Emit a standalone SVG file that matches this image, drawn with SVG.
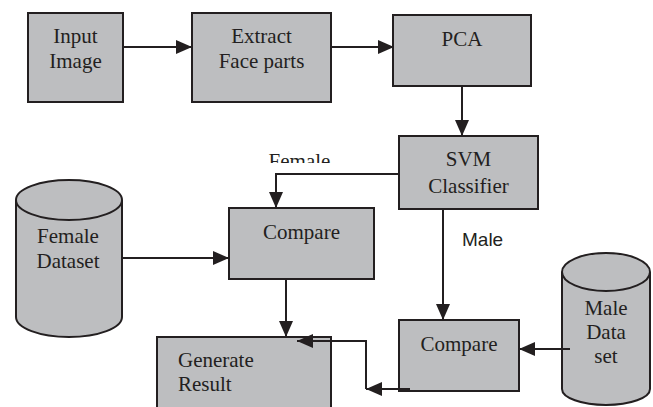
<svg xmlns="http://www.w3.org/2000/svg" width="653" height="407" viewBox="0 0 653 407">
<style>
.box{fill:#bdbec0;stroke:#231f20;stroke-width:2}
.t{font-family:'Liberation Serif','Times New Roman',Times,'DejaVu Serif',serif;font-size:21px;fill:#231f20;text-anchor:middle}
.s{font-family:'Liberation Sans',Arial,sans-serif;font-size:19px;fill:#231f20}
.c{fill:none;stroke:#231f20;stroke-width:2}
</style>
<defs>
<marker id="ah" viewBox="0 0 16 14" refX="16" refY="7" markerWidth="16" markerHeight="14" markerUnits="userSpaceOnUse" orient="auto">
<path d="M0,0 L16,7 L0,14 Z" fill="#231f20"/>
</marker>
<clipPath id="fclip"><rect x="250" y="140" width="100" height="23"/></clipPath>
</defs>
<rect width="653" height="407" fill="#fff"/>
<g id="input">
<rect class="box" x="28" y="13" width="95" height="89"/>
<text class="t" x="75.5" y="43">Input</text>
<text class="t" x="75.5" y="68">Image</text>
</g>
<g id="extract">
<rect class="box" x="192" y="13" width="139" height="89"/>
<text class="t" x="261.5" y="43">Extract</text>
<text class="t" x="261.5" y="68">Face parts</text>
</g>
<g id="pca">
<rect class="box" x="393" y="15" width="138" height="71"/>
<text class="t" x="462" y="46">PCA</text>
</g>
<g id="svm">
<rect class="box" x="399" y="136" width="139" height="73"/>
<text class="t" x="468.5" y="166">SVM</text>
<text class="t" x="468.5" y="193">Classifier</text>
</g>
<g id="femaleDataset">
<path class="box" d="M16,200 V317 A53,20 0 0 0 122,317 V200"/>
<ellipse class="box" cx="69" cy="200" rx="53" ry="20"/>
<text class="t" x="68" y="243">Female</text>
<text class="t" x="68" y="268">Dataset</text>
</g>
<g id="compareFemale">
<rect class="box" x="229" y="208" width="145" height="71"/>
<text class="t" x="301.5" y="239">Compare</text>
</g>
<g id="maleDataset">
<path class="box" d="M562,272 V389 A44,16 0 0 0 650,389 V272"/>
<ellipse class="box" cx="606" cy="272" rx="44" ry="19"/>
<text class="t" x="606" y="315">Male</text>
<text class="t" x="606" y="339">Data</text>
<text class="t" x="606" y="363">set</text>
</g>
<g id="compareMale">
<rect class="box" x="399" y="320" width="120" height="71"/>
<text class="t" x="459" y="351">Compare</text>
</g>
<g id="generate">
<rect class="box" x="157" y="337" width="174" height="80"/>
<text class="t" x="178" y="367" style="text-anchor:start">Generate</text>
<text class="t" x="178" y="391" style="text-anchor:start">Result</text>
</g>
<g id="connectors">
<path class="c" d="M123,47 H192" marker-end="url(#ah)"/>
<path class="c" d="M331,47 H394" marker-end="url(#ah)"/>
<path class="c" d="M462,86 V136" marker-end="url(#ah)"/>
<path class="c" d="M399,174 H276 V208" marker-end="url(#ah)"/>
<path class="c" d="M122,258 H229" marker-end="url(#ah)"/>
<path class="c" d="M443,209 V320" marker-end="url(#ah)"/>
<path class="c" d="M570,349 H519" marker-end="url(#ah)"/>
<path class="c" d="M286,279 V337" marker-end="url(#ah)"/>
<path class="c" d="M410,389 H366" marker-end="url(#ah)"/>
<path class="c" d="M366,389 V341 H297" marker-end="url(#ah)"/>
<text class="t" x="299.5" y="168" clip-path="url(#fclip)">Female</text>
<text class="s" x="462" y="246">Male</text>
</g>
</svg>
